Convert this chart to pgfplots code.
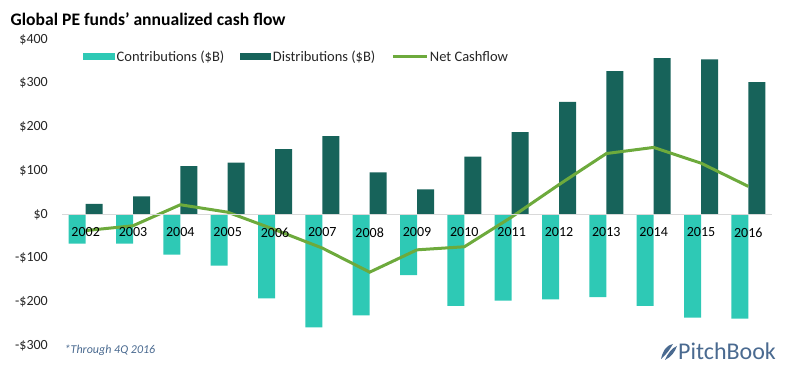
\documentclass[border=0pt]{standalone}
\usepackage{pgfplots}
\pgfplotsset{compat=1.18}
\usepackage{fontspec}
\setmainfont{Carlito}
\definecolor{contr}{HTML}{2EC9B5}
\definecolor{distr}{HTML}{17635A}
\definecolor{netc}{HTML}{6DAA3C}
\definecolor{logoc}{HTML}{4A6A90}
\definecolor{zeroc}{HTML}{D9D9D9}
\begin{document}
\begin{tikzpicture}
\useasboundingbox (0,0) rectangle (796pt,374pt);
\begin{axis}[
  at={(62pt,28.3pt)}, anchor=south west,
  scale only axis, width=710pt, height=306.4pt,
  xmin=-0.5, xmax=14.5, ymin=-300, ymax=400,
  axis on top,
  axis x line=middle, axis y line*=left,
  y axis line style={draw=none},
  x axis line style={draw=zeroc, line width=1.2pt, -},
  major tick length=0pt,
  xtick={0,...,14},
  xticklabels={2002,2003,2004,2005,2006,2007,2008,2009,2010,2011,2012,2013,2014,2015,2016},
  xticklabel style={anchor=north, inner sep=0pt, yshift=-13pt, font=\fontsize{14}{16}\selectfont, text=black},
  ytick={-300,-200,-100,0,100,200,300,400},
  yticklabels={-\$300,-\$200,-\$100,\$0,\$100,\$200,\$300,\$400},
  yticklabel style={anchor=east, inner sep=0pt, xshift=-14pt, font=\fontsize{14}{16}\selectfont, text=black!85},
  clip=false,
  legend columns=-1,
  legend style={at={(0,1)}, anchor=west, xshift=21pt, yshift=-17.7pt,
    draw=none, fill=none, font=\fontsize{14.5}{16}\selectfont,
    inner xsep=0pt, inner ysep=0pt,
    nodes={inner xsep=1.5pt, inner ysep=0pt, text=black!85},
    /tikz/every even column/.append style={column sep=14.5pt}},
]
\addplot[ybar, bar width=17pt, bar shift=-8.5pt, fill=contr, draw=none,
  legend image code/.code={\fill[contr] (0pt,-3.5pt) rectangle (32pt,3.5pt);}]
  coordinates {(0,-67) (1,-67) (2,-92) (3,-117) (4,-192) (5,-258) (6,-231) (7,-139) (8,-209) (9,-197) (10,-194) (11,-189) (12,-209) (13,-236) (14,-238)};
\addlegendentry{Contributions (\$B)}
\addplot[ybar, bar width=17pt, bar shift=8.5pt, fill=distr, draw=none,
  legend image code/.code={\fill[distr] (0pt,-3.5pt) rectangle (31pt,3.5pt);}]
  coordinates {(0,24) (1,41) (2,110) (3,118) (4,149) (5,179) (6,96) (7,57) (8,132) (9,188) (10,257) (11,327) (12,357) (13,354) (14,302)};
\addlegendentry{Distributions (\$B)}
\addplot[sharp plot, color=netc, line width=3pt, mark=none,
  legend image code/.code={\draw[netc, line width=3pt] (0pt,0pt) -- (34pt,0pt);}]
  coordinates {(0,-37) (1,-26) (2,22) (3,5) (4,-35) (5,-77) (6,-132) (7,-81) (8,-74) (9,-6) (10,68) (11,139) (12,153) (13,117) (14,64)};
\addlegendentry{Net Cashflow}
\end{axis}
\node[anchor=base west, inner sep=0pt, font=\fontsize{17.6}{20}\selectfont\bfseries] at (10.5pt,348pt) {Global PE funds’ annualized cash flow};
\node[anchor=west, inner sep=0pt, font=\fontsize{12}{14}\selectfont\itshape, text=logoc] at (64.5pt,24pt) {*Through 4Q 2016};
\node[anchor=base west, inner sep=0pt, font=\fontsize{24}{28}\selectfont, text=logoc] at (678pt,14pt) {PitchBook};
\fill[logoc] (661pt,15pt) .. controls (663pt,24pt) and (667pt,29pt) .. (673pt,30pt) .. controls (670pt,25pt) and (667pt,20pt) .. (661pt,15pt) -- cycle;
\fill[logoc] (665pt,14pt) .. controls (668pt,21pt) and (672pt,26pt) .. (677pt,28pt) .. controls (675pt,22pt) and (671pt,17pt) .. (665pt,14pt) -- cycle;
\end{tikzpicture}
\end{document}
